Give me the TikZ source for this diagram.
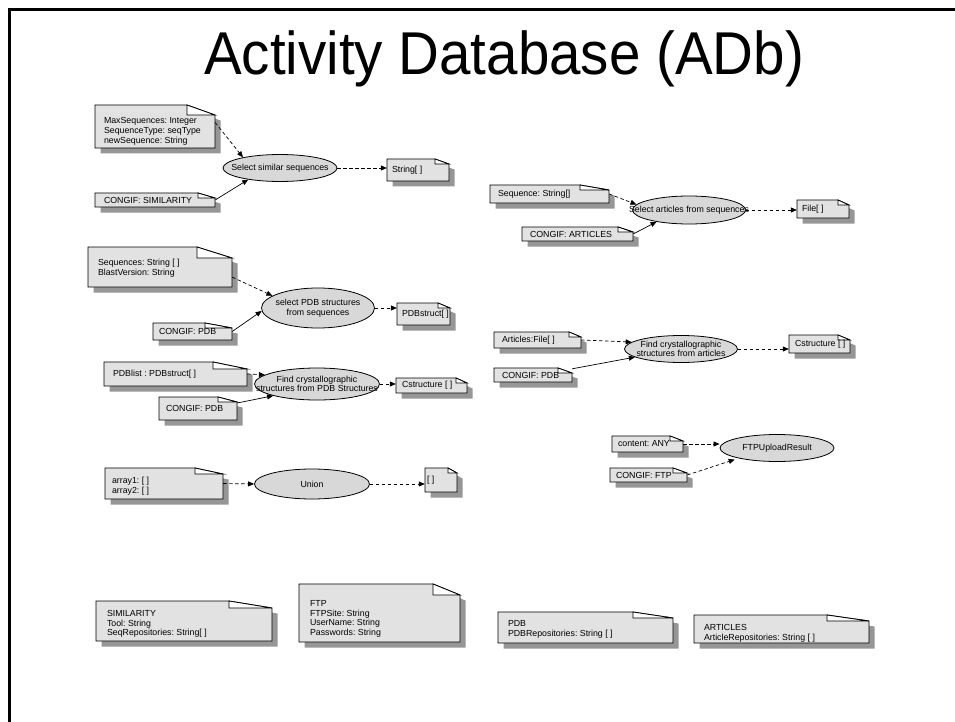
\documentclass[tikz,border=0pt]{standalone}
\usepackage{fontspec}
\setmainfont{Liberation Sans}
\usetikzlibrary{arrows.meta,shapes.geometric}
\frenchspacing

\definecolor{notefill}{RGB}{226,226,226}
\definecolor{noteshade}{RGB}{150,150,150}
\definecolor{ovalfill}{RGB}{216,216,216}

\tikzset{
  small/.style={font=\fontsize{8.8}{9.7}\selectfont},
  notebody/.style={fill=notefill, draw=black, line width=0.8pt, line join=miter},
  noteshadow/.style={fill=noteshade},
  noteflap/.style={fill=white, draw=black, line width=0.8pt},
  notebox/.style={rectangle, draw=none, inner sep=0pt},
  notelabel/.style={small, align=left, inner sep=0pt, anchor=west},
  ovalshape/.style={ellipse, fill=ovalfill, draw=black, line width=0.8pt, inner sep=0pt},
  ovallabel/.style={small, align=center, inner sep=0pt},
  dflow/.style={draw, line width=0.7pt, dash pattern=on 3.5pt off 2.5pt,
                -{Triangle[length=6pt,width=5pt]}},
  sflow/.style={draw, line width=0.7pt, -{Triangle[length=6pt,width=5pt]}},
  heading/.style={font=\fontsize{56.5}{60}\selectfont, inner sep=0pt},
}

% UML note with folded corner and drop shadow:
% name, left, top, right, bottom, fold start x, fold depth
\newcommand\umlnote[7]{%
  \pgfmathsetmacro\nbw{#4-#2}%
  \pgfmathsetmacro\nbh{#5-#3}%
  \fill[noteshadow, shift={(5.5,5.5)}] (#2,#5) -- (#2,#3) -- (#6,#3) -- (#4,#3+#7) -- (#4,#5) -- cycle;
  \filldraw[notebody] (#2,#5) -- (#2,#3) -- (#6,#3) -- (#4,#3+#7) -- (#4,#5) -- cycle;
  \filldraw[noteflap] (#6,#3) -- (#4,#3+#7) -- (#6,#3+#7) -- cycle;
  \node[notebox, minimum width=\nbw pt, minimum height=\nbh pt] (#1) at ({(#2+#4)/2},{(#3+#5)/2}) {};
}
% text of a note: name, left inset, downward offset, text
\newcommand\notetext[4]{%
  \node[notelabel] (#1-t) at ([xshift=#2pt, yshift=-#3pt]#1.west) {#4};
}

% Activity oval: name, centre x, centre y, width, height, text
\newcommand\activity[6]{%
  \node[ovalshape, minimum width=#4pt, minimum height=#5pt] (#1) at (#2,#3) {};
  \node[ovallabel] (#1-t) at (#1.center) {#6};
}

\begin{document}
\begin{tikzpicture}[x=1pt, y=-1pt]
\useasboundingbox (0,0) rectangle (955,722);

% slide frame
\draw[line width=3pt] (9,725) -- (9,10) -- (958,10);

\node[heading, anchor=base west] (title) at (204,75) {\scalebox{1}[1.07]{Activity Database (ADb)}};

% select similar sequences
\umlnote{simA}{95}{105}{215}{148}{187}{10}
\notetext{simA}{9}{5}{MaxSequences: Integer\\SequenceType: seqType\\newSequence: String}
\umlnote{simB}{95}{193}{215}{207}{198}{5}
\notetext{simB}{9}{0}{CONGIF: SIMILARITY}
\activity{simE}{280}{168}{114}{27}{Select similar sequences}
\umlnote{simC}{387}{159}{449}{181}{435}{5}
\notetext{simC}{5}{0}{String[ ]}
\draw[dflow] ([yshift=4pt]simA.east) -- (simE.164);
\draw[sflow] (simB.east) -- (simE.200);
\draw[dflow] (simE.east) -- (simE.east -| simC.west);

% select articles from sequences
\umlnote{artA}{490}{185}{609}{203}{580}{5}
\notetext{artA}{8}{0}{Sequence: String[]}
\umlnote{artB}{522}{227}{633}{241}{618}{5}
\notetext{artB}{8}{0}{CONGIF: ARTICLES}
\activity{artE}{689}{210}{113}{28}{Select articles from sequences}
\umlnote{artC}{797}{200}{849}{218}{838}{5}
\notetext{artC}{5}{0}{File[ ]}
\draw[dflow] (artA.east) -- (artE.174);
\draw[sflow] (artB.east) -- (artE.200);
\draw[dflow] (artE.east) -- (artE.east -| artC.west);

% select PDB structures from sequences
\umlnote{pdbA}{88}{247}{232}{287}{197}{11}
\notetext{pdbA}{10}{1.5}{Sequences: String [ ]\\BlastVersion: String}
\umlnote{pdbB}{153}{323}{232}{340}{205}{5}
\notetext{pdbB}{6}{0}{CONGIF: PDB}
\activity{pdbE}{318}{308}{113}{40}{select PDB structures\\from sequences}
\umlnote{pdbC}{397}{303}{450}{325}{438}{5}
\notetext{pdbC}{5}{0}{PDBstruct[ ]}
\draw[dflow] (pdbA.-8) -- (pdbE.165);
\draw[sflow] (pdbB.east) -- (pdbE.183);
\draw[dflow] (pdbE.east) -- (pdbE.east -| pdbC.west);

% find crystallographic structures from PDB structures
\umlnote{xtlA}{104}{362}{247}{386}{213}{7}
\notetext{xtlA}{9}{0}{PDBlist : PDBstruct[ ]}
\umlnote{xtlB}{159}{397}{237}{420}{218}{5}
\notetext{xtlB}{7}{0}{CONGIF: PDB}
\activity{xtlE}{317}{384}{125}{32}{Find crystallographic\\structures from PDB Structures}
\umlnote{xtlC}{396}{378}{467}{393}{456}{5}
\notetext{xtlC}{6}{0}{Cstructure [ ]}
\draw[dflow] (xtlA.east) -- (xtlE.170);
\draw[sflow] (xtlB.8) -- (xtlE.195);
\draw[dflow] (xtlE.east) -- (xtlE.east -| xtlC.west);

% find crystallographic structures from articles
\umlnote{fcaA}{494}{332}{581}{348}{569}{5}
\notetext{fcaA}{8}{0}{Articles:File[ ]}
\umlnote{fcaB}{494}{368}{572}{382}{558}{5}
\notetext{fcaB}{8}{0}{CONGIF: PDB}
\activity{fcaE}{681}{349}{113}{27}{Find crystallographic\\structures from articles}
\umlnote{fcaC}{789}{335}{850}{353}{838}{5}
\notetext{fcaC}{6}{0}{Cstructure [ ]}
\draw[dflow] (fcaA.east) -- (fcaE.172);
\draw[sflow] (fcaB.9) -- (fcaE.190);
\draw[dflow] (fcaE.east) -- (fcaE.east -| fcaC.west);

% FTP upload
\umlnote{ftpA}{612}{436}{683}{452}{670}{5}
\notetext{ftpA}{6}{0}{content: ANY}
\umlnote{ftpB}{610}{468}{687}{482}{673}{5}
\notetext{ftpB}{6}{0}{CONGIF: FTP}
\activity{ftpE}{777}{448}{114}{27}{FTPUploadResult}
\draw[dflow] (ftpA.east) -- (ftpA.east -| ftpE.west);
\draw[dflow, shorten >=4pt] (ftpB.east) -- (ftpE.195);

% union
\umlnote{uniA}{105}{468}{223}{499}{195}{6}
\notetext{uniA}{7}{2.5}{array1: [ ]\\array2: [ ]}
\activity{uniE}{312}{484}{115}{30}{Union}
\umlnote{uniC}{425}{468}{457}{492}{448}{5}
\notetext{uniC}{2}{0}{[ ]}
\draw[dflow] (uniA.east) -- (uniE.west);
\draw[dflow] (uniE.east) -- (uniE.east -| uniC.west);

% configuration classes
\umlnote{cfgSim}{96}{601}{272}{641}{229}{7}
\notetext{cfgSim}{11}{3}{SIMILARITY\\Tool: String\\SeqRepositories: String[ ]}
\umlnote{cfgFtp}{299}{584}{460}{642}{433}{11}
\notetext{cfgFtp}{11}{6}{FTP\\FTPSite: String\\UserName: String\\Passwords: String}
\umlnote{cfgPdb}{498}{612}{673}{643}{633}{6}
\notetext{cfgPdb}{10}{2}{PDB\\PDBRepositories: String [ ]}
\umlnote{cfgArt}{694}{615}{869}{643}{827}{6}
\notetext{cfgArt}{10}{4}{ARTICLES\\ArticleRepositories: String [ ]}
\end{tikzpicture}
\end{document}
